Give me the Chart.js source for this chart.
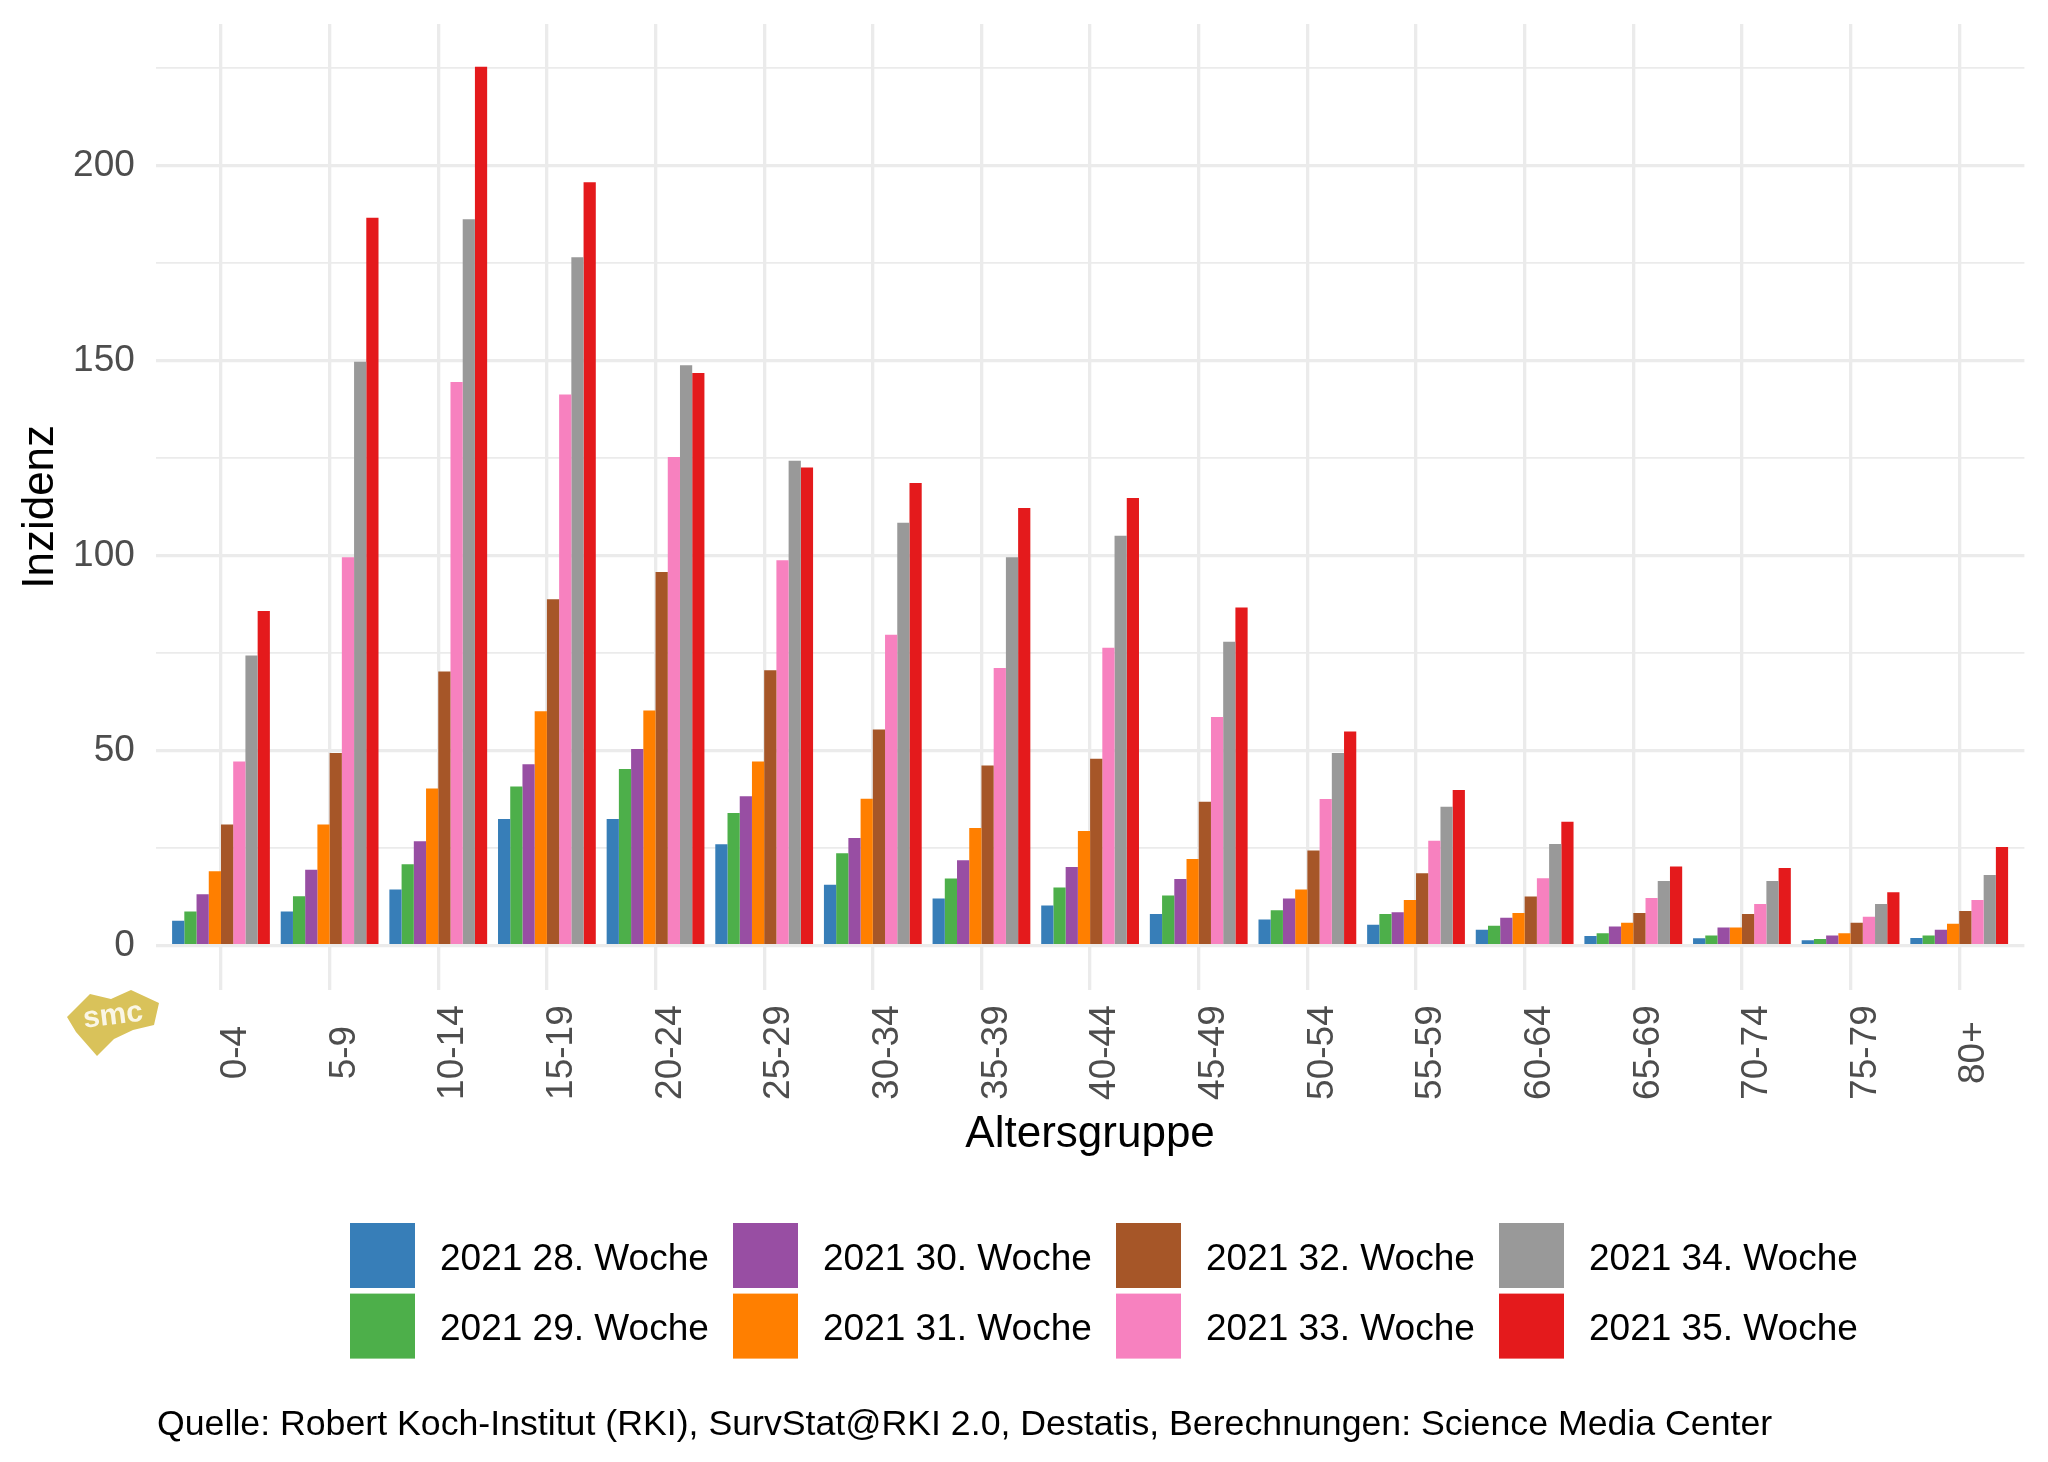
<!DOCTYPE html>
<html>
<head>
<meta charset="utf-8">
<title>Inzidenz nach Altersgruppe</title>
<script src="https://cdn.jsdelivr.net/npm/chart.js@4"></script>
<style>
  html, body { margin: 0; padding: 0; background: #fff; }
  #wrap { width: 2048px; height: 1462px; }
</style>
</head>
<body>
<div id="wrap"><canvas id="myChart" width="2048" height="1462"></canvas></div>
<script>
// Age groups on the x axis
const ageGroups = ['0-4', '5-9', '10-14', '15-19', '20-24', '25-29', '30-34', '35-39', '40-44',
    '45-49', '50-54', '55-59', '60-64', '65-69', '70-74', '75-79', '80+'];

// Weekly incidence per age group
const week28 = [6.4, 8.8, 14.4, 32.5, 32.5, 26.0, 15.6, 12.1, 10.3, 8.1, 6.7, 5.4, 4.1, 2.5, 1.9, 1.4, 2.0];
const week29 = [8.8, 12.7, 20.9, 40.8, 45.3, 34.0, 23.7, 17.2, 14.9, 12.9, 9.1, 8.1, 5.1, 3.2, 2.6, 1.7, 2.6];
const week30 = [13.2, 19.5, 26.8, 46.5, 50.4, 38.3, 27.6, 21.9, 20.2, 17.1, 12.1, 8.6, 7.2, 4.9, 4.7, 2.6, 4.1];
const week31 = [19.1, 31.1, 40.3, 60.1, 60.3, 47.2, 37.7, 30.2, 29.4, 22.2, 14.4, 11.7, 8.4, 5.9, 4.7, 3.2, 5.6];
const week32 = [31.1, 49.4, 70.3, 88.8, 95.8, 70.6, 55.4, 46.2, 47.9, 36.9, 24.4, 18.6, 12.6, 8.4, 8.1, 5.9, 8.9];
const week33 = [47.2, 99.6, 144.5, 141.3, 125.3, 98.8, 79.7, 71.2, 76.4, 58.6, 37.6, 26.9, 17.3, 12.2, 10.7, 7.4, 11.7];
const week34 = [74.4, 149.7, 186.2, 176.5, 148.8, 124.3, 108.4, 99.6, 105.1, 77.9, 49.4, 35.6, 26.1, 16.6, 16.6, 10.7, 18.1];
const week35 = [85.8, 186.6, 225.3, 195.7, 146.8, 122.6, 118.6, 112.2, 114.8, 86.7, 54.9, 39.9, 31.8, 20.3, 19.9, 13.7, 25.3];

const weekLabels = ['2021 28. Woche', '2021 29. Woche', '2021 30. Woche', '2021 31. Woche',
    '2021 32. Woche', '2021 33. Woche', '2021 34. Woche', '2021 35. Woche'];
const weekColors = ['#377EB8', '#4DAF4A', '#984EA3', '#FF7F00', '#A65628', '#F781BF', '#999999', '#E41A1C'];

// Y gridlines (every 25, labels every 50)
const yTicks = [0, 25, 50, 75, 100, 125, 150, 175, 200, 225];

const caption = 'Quelle: Robert Koch-Institut (RKI), SurvStat@RKI 2.0, Destatis, Berechnungen: Science Media Center';

const FONT = '"Liberation Sans", Arial, sans-serif';
const GRID = '#EBEBEB';

const weeks = [week28, week29, week30, week31, week32, week33, week34, week35];

const datasets = weeks.map((values, i) => ({
    label: weekLabels[i],
    data: values.map((v, j) => ({ x: j + 1, y: v })),
    backgroundColor: weekColors[i],
    borderWidth: 0,
    categoryPercentage: 0.9,
    barPercentage: 1.0
}));

// Rotated age group labels, centred like ggplot does it
const xLabelPlugin = {
    id: 'xLabels',
    afterDraw(chart) {
        const ctx = chart.ctx;
        const xScale = chart.scales.x;
        const y = chart.chartArea.bottom + 63;
        ctx.save();
        ctx.font = '37px ' + FONT;
        ctx.fillStyle = '#4D4D4D';
        ctx.textAlign = 'center';
        ctx.textBaseline = 'middle';
        xScale.ticks.forEach((tick, i) => {
            const px = xScale.getPixelForValue(tick.value);
            ctx.save();
            ctx.translate(px + 15, y);
            ctx.rotate(-Math.PI / 2);
            ctx.fillText(ageGroups[i], 0, 0);
            ctx.restore();
        });
        ctx.restore();
    }
};

// Legend in two rows, filled column by column, plus the source caption
const legendPlugin = {
    id: 'ggLegend',
    afterDraw(chart) {
        const ctx = chart.ctx;
        const sets = chart.data.datasets;
        ctx.save();
        ctx.font = '37px ' + FONT;
        ctx.textAlign = 'left';
        ctx.textBaseline = 'middle';
        sets.forEach((ds, i) => {
            const col = Math.floor(i / 2);
            const row = i % 2;
            const left = 350 + col * 383;
            const top = 1223 + row * 70.6;
            ctx.fillStyle = ds.backgroundColor;
            ctx.fillRect(left, top, 65, 65);
            ctx.fillStyle = '#000';
            ctx.fillText(ds.label, left + 90, top + 36.5);
        });

        ctx.font = '35.7px ' + FONT;
        ctx.textBaseline = 'alphabetic';
        ctx.fillStyle = '#000';
        ctx.fillText(caption, 157, 1435);
        ctx.restore();
    }
};

// Small smc logo at the bottom left of the plot
const logoPlugin = {
    id: 'smcLogo',
    afterDraw(chart) {
        const ctx = chart.ctx;
        const pts = [[67, 1017], [90, 994], [111, 999], [131, 990], [159, 1003], [154, 1025],
            [133, 1030], [114, 1039], [97, 1056], [76, 1032]];
        ctx.save();
        ctx.fillStyle = '#D9C25A';
        ctx.beginPath();
        pts.forEach((p, i) => i === 0 ? ctx.moveTo(p[0], p[1]) : ctx.lineTo(p[0], p[1]));
        ctx.closePath();
        ctx.fill();
        ctx.translate(113, 1016);
        ctx.rotate(-0.12);
        ctx.font = 'bold 30px ' + FONT;
        ctx.fillStyle = 'rgba(255,255,255,0.85)';
        ctx.textAlign = 'center';
        ctx.textBaseline = 'middle';
        ctx.fillText('smc', 0, 0);
        ctx.restore();
    }
};

const ctx = document.getElementById('myChart').getContext('2d');

const myChart = new Chart(ctx, {
    type: 'bar',
    data: { datasets: datasets },
    options: {
        responsive: false,
        devicePixelRatio: 1,
        animation: false,
        events: [],
        layout: {
            padding: { left: 0, right: 23.6, top: 0, bottom: 301 }
        },
        plugins: {
            legend: { display: false },
            tooltip: { enabled: false }
        },
        scales: {
            x: {
                type: 'linear',
                min: 0.4,
                max: 17.6,
                offset: false,
                afterBuildTicks: (scale) => {
                    scale.ticks = ageGroups.map((g, i) => ({ value: i + 1 }));
                },
                afterFit: (scale) => { scale.height = 171.4; },
                ticks: { display: false },
                grid: { color: GRID, lineWidth: 3.3, offset: false, drawTicks: false },
                border: { display: false },
                title: {
                    display: true,
                    text: 'Altersgruppe',
                    color: '#000',
                    font: { family: FONT, size: 44 },
                    padding: { top: 0, bottom: 0 }
                }
            },
            y: {
                min: -11.25,
                max: 236.25,
                afterBuildTicks: (scale) => {
                    scale.ticks = yTicks.map(v => ({ value: v }));
                },
                afterFit: (scale) => {
                    scale.width = 155.8;
                    // ggplot panel starts right at the top; keep the label overflow small
                    scale.paddingTop = 24.1;
                },
                ticks: {
                    padding: 21,
                    color: '#4D4D4D',
                    font: { family: FONT, size: 37 },
                    callback: (v) => (v % 50 === 0 ? String(v) : '')
                },
                grid: {
                    color: GRID,
                    drawTicks: false,
                    lineWidth: (c) => (c.tick && c.tick.value % 50 === 0 ? 3.3 : 1.65)
                },
                border: { display: false },
                title: {
                    display: true,
                    text: 'Inzidenz',
                    color: '#000',
                    font: { family: FONT, size: 44 },
                    padding: { top: 14.1, bottom: 0 }
                }
            }
        }
    },
    plugins: [xLabelPlugin, legendPlugin, logoPlugin]
});
</script>
</body>
</html>
